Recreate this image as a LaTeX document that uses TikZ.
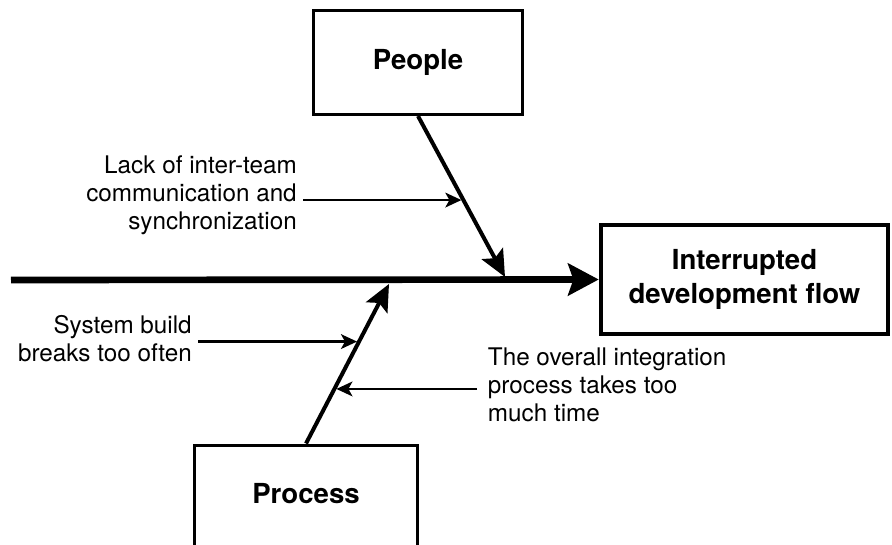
\documentclass[tikz,border=0pt]{standalone}
\usepackage{fontspec}
\setmainfont{TeX Gyre Heros}
\usetikzlibrary{arrows.meta,calc}

\tikzset{
  catbox/.style={draw=black, line width=2.3pt, fill=white, inner sep=0pt,
    font=\fontsize{20.7}{25.5}\selectfont\bfseries, align=center},
  effectbox/.style={catbox, line width=3.4pt},
  causetext/.style={font=\fontsize{18.2}{21}\selectfont, inner ysep=0pt, inner xsep=4.5pt},
  spine/.style={line width=5pt, -{Stealth[length=23pt, width=24pt, inset=4pt]}},
  branch/.style={line width=3pt, -{Stealth[length=20pt, width=18pt, inset=4pt]}},
  cause/.style={line width=2pt, shorten >=1.5pt, -{Stealth[length=12pt, width=11pt, inset=3pt]}}
}

\begin{document}
\begin{tikzpicture}[x=0.75pt, y=-0.75pt]
  \useasboundingbox (0,0) rectangle (892,545);
  \clip (0,0) rectangle (892,545);

  % category boxes and the effect
  \node[catbox, minimum width=156.75pt, minimum height=78pt] (people) at (418,62.5) {People};
  \node[effectbox, minimum width=215.25pt, minimum height=81.75pt] (effect) at (744.5,279.5)
    {Interrupted\\development flow};
  \node[catbox, minimum width=167.25pt, minimum height=83.6pt, anchor=north, text depth=10.5pt]
    (process) at (306,443.5) {Process};

  % spine
  \coordinate (spinestart) at (11,280);
  \draw[spine] (spinestart) -- (effect.west);

  % branches
  \coordinate (ptip) at (505,277);
  \coordinate (qtip) at (389,284);
  \draw[branch] (people.south) -- (ptip);
  \draw[branch] (process.north) -- (qtip);

  % points where the causes meet the branches
  \coordinate (c1) at ($(people.south)!0.522!(ptip)$);
  \coordinate (c2) at ($(process.north)!0.639!(qtip)$);
  \coordinate (c3) at ($(process.north)!0.342!(qtip)$);

  % causes
  \node[causetext, align=right, anchor=east] (lack) at (303,195)
    {Lack of inter-team\\communication and\\synchronization};
  \node[causetext, align=right, anchor=east] (build) at (198,339)
    {System build\\breaks too often};
  \node[causetext, align=left, anchor=west, inner xsep=8pt] (overall) at (477,385)
    {The overall integration\\process takes too\\much time};

  \draw[cause] (lack.east |- c1) -- (c1);
  \draw[cause] (build.east |- c2) -- (c2);
  \draw[cause] (overall.west |- c3) -- (c3);
\end{tikzpicture}
\end{document}
